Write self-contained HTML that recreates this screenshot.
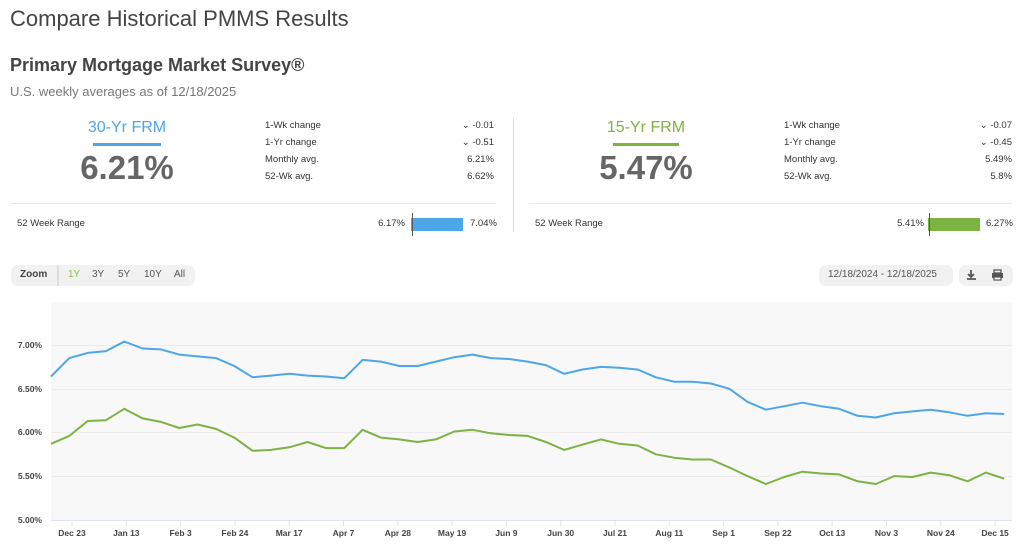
<!DOCTYPE html>
<html><head><meta charset="utf-8"><style>
body{margin:0;width:1024px;height:547px;background:#fff;font-family:"Liberation Sans",sans-serif;position:relative;overflow:hidden;color:#444}
.a{position:absolute;white-space:nowrap}
.lbl{font-size:9.5px;color:#333}
.val{font-size:9.5px;color:#333;text-align:right}
</style></head><body>
<div class="a" style="left:10px;top:6px;font-size:22px;color:#444">Compare Historical PMMS Results</div>
<div class="a" style="left:10px;top:55px;font-size:18px;font-weight:bold;color:#444">Primary Mortgage Market Survey®</div>
<div class="a" style="left:10px;top:84px;font-size:13px;color:#777">U.S. weekly averages as of 12/18/2025</div>

<div class="a" style="left:77px;width:100px;text-align:center;top:119px;font-size:16px;color:#4da6e8">30-Yr FRM</div>
<div class="a" style="left:93px;top:143px;width:68px;height:3px;background:#4da6e8"></div>
<div class="a" style="left:57px;width:140px;text-align:center;top:149px;font-size:33px;font-weight:bold;color:#666">6.21%</div>
<div class="a lbl" style="left:265px;top:120px">1-Wk change</div>
<div class="a lbl" style="left:265px;top:137px">1-Yr change</div>
<div class="a lbl" style="left:265px;top:154px">Monthly avg.</div>
<div class="a lbl" style="left:265px;top:171px">52-Wk avg.</div>
<div class="a val" style="right:530px;top:120px">⌄ -0.01</div>
<div class="a val" style="right:530px;top:137px">⌄ -0.51</div>
<div class="a val" style="right:530px;top:154px">6.21%</div>
<div class="a val" style="right:530px;top:171px">6.62%</div>
<div class="a" style="left:10px;top:203px;width:486px;height:1px;background:#e8e8e8"></div>
<div class="a lbl" style="left:17px;top:218px">52 Week Range</div>
<div class="a val" style="right:619px;top:218px">6.17%</div>
<div class="a" style="left:411px;top:218px;width:52px;height:13px;background:#4da6e8"></div>
<div class="a" style="left:412px;top:213px;width:1px;height:23px;background:#555"></div>
<div class="a lbl" style="left:470px;top:218px">7.04%</div>

<div class="a" style="left:513px;top:118px;width:1px;height:114px;background:#ddd"></div>

<div class="a" style="left:596px;width:100px;text-align:center;top:119px;font-size:16px;color:#7cb342">15-Yr FRM</div>
<div class="a" style="left:613px;top:143px;width:66px;height:3px;background:#7cb342"></div>
<div class="a" style="left:576px;width:140px;text-align:center;top:149px;font-size:33px;font-weight:bold;color:#666">5.47%</div>
<div class="a lbl" style="left:784px;top:120px">1-Wk change</div>
<div class="a lbl" style="left:784px;top:137px">1-Yr change</div>
<div class="a lbl" style="left:784px;top:154px">Monthly avg.</div>
<div class="a lbl" style="left:784px;top:171px">52-Wk avg.</div>
<div class="a val" style="right:12px;top:120px">⌄ -0.07</div>
<div class="a val" style="right:12px;top:137px">⌄ -0.45</div>
<div class="a val" style="right:12px;top:154px">5.49%</div>
<div class="a val" style="right:12px;top:171px">5.8%</div>
<div class="a" style="left:529px;top:203px;width:483px;height:1px;background:#e8e8e8"></div>
<div class="a lbl" style="left:535px;top:218px">52 Week Range</div>
<div class="a val" style="right:100px;top:218px">5.41%</div>
<div class="a" style="left:928px;top:218px;width:52px;height:13px;background:#7cb342"></div>
<div class="a" style="left:929px;top:213px;width:1px;height:23px;background:#555"></div>
<div class="a lbl" style="left:986px;top:218px">6.27%</div>

<div class="a" style="left:11px;top:265px;width:184px;height:21px;background:#f1f1f1;border-radius:7px"></div>
<div class="a" style="left:57px;top:265px;width:2px;height:21px;background:#ddd"></div>
<div class="a" style="left:20px;top:269px;font-size:10px;font-weight:bold;color:#444">Zoom</div>
<div class="a" style="left:68px;top:269px;font-size:10px;color:#8bc34a">1Y</div>
<div class="a" style="left:92px;top:269px;font-size:10px;color:#555">3Y</div>
<div class="a" style="left:118px;top:269px;font-size:10px;color:#555">5Y</div>
<div class="a" style="left:144px;top:269px;font-size:10px;color:#555">10Y</div>
<div class="a" style="left:174px;top:269px;font-size:10px;color:#555">All</div>

<div class="a" style="left:819px;top:265px;width:134px;height:21px;background:#f1f1f1;border-radius:7px"></div>
<div class="a" style="left:828px;top:269px;font-size:10px;color:#555">12/18/2024 - 12/18/2025</div>
<div class="a" style="left:959px;top:265px;width:54px;height:21px;background:#f1f1f1;border-radius:7px"></div>
<svg class="a" style="left:966px;top:269px" width="42" height="13">
<path d="M5 1v6M2 5l3 3 3-3M1 10h9" stroke="#555" stroke-width="1.8" fill="none"/>
<rect x="28" y="1" width="7" height="3" fill="none" stroke="#555" stroke-width="1.3"/>
<rect x="26" y="4" width="11" height="5" fill="#555"/>
<rect x="28" y="8" width="7" height="3" fill="#fff" stroke="#555" stroke-width="1.2"/>
</svg>

<svg class="a" style="left:0;top:0" width="1024" height="547">
<rect x="51" y="302" width="961" height="218" fill="#f8f8f8"/>
<g stroke="#ececec" stroke-width="1">
<line x1="51" x2="1012" y1="345.5" y2="345.5"/><line x1="51" x2="1012" y1="389.5" y2="389.5"/>
<line x1="51" x2="1012" y1="432.5" y2="432.5"/><line x1="51" x2="1012" y1="476.5" y2="476.5"/>
</g>
<line x1="51" x2="1012" y1="520.5" y2="520.5" stroke="#dde3ee"/>
<g font-size="8.5" font-weight="bold" fill="#444" text-anchor="end" font-family="Liberation Sans">
<text x="42" y="348">7.00%</text><text x="42" y="392">6.50%</text><text x="42" y="435">6.00%</text>
<text x="42" y="479">5.50%</text><text x="42" y="523">5.00%</text>
</g>
<g id="xt" font-size="8.5" font-weight="bold" fill="#444" text-anchor="middle" font-family="Liberation Sans"></g>
<polyline id="p30" fill="none" stroke="#4da6e8" stroke-width="2" stroke-linejoin="round"/>
<polyline id="p15" fill="none" stroke="#7cb342" stroke-width="2" stroke-linejoin="round"/>
</svg>
<script>
var a=[6.64,6.85,6.91,6.93,7.04,6.96,6.95,6.89,6.87,6.85,6.76,6.63,6.65,6.67,6.65,6.64,6.62,6.83,6.81,6.76,6.76,6.81,6.86,6.89,6.85,6.84,6.81,6.77,6.67,6.72,6.75,6.74,6.72,6.63,6.58,6.58,6.56,6.50,6.35,6.26,6.30,6.34,6.30,6.27,6.19,6.17,6.22,6.24,6.26,6.23,6.19,6.22,6.21];
var b=[5.87,5.96,6.13,6.14,6.27,6.16,6.12,6.05,6.09,6.04,5.94,5.79,5.80,5.83,5.89,5.82,5.82,6.03,5.94,5.92,5.89,5.92,6.01,6.03,5.99,5.97,5.96,5.89,5.80,5.86,5.92,5.87,5.85,5.75,5.71,5.69,5.69,5.60,5.50,5.41,5.49,5.55,5.53,5.52,5.44,5.41,5.50,5.49,5.54,5.51,5.44,5.54,5.47];
function pts(d){return d.map(function(v,i){return (51+i*18.33).toFixed(1)+","+(345+(7-v)*87.4).toFixed(1)}).join(" ")}
document.getElementById("p30").setAttribute("points",pts(a));
document.getElementById("p15").setAttribute("points",pts(b));
var L=["Dec 23","Jan 13","Feb 3","Feb 24","Mar 17","Apr 7","Apr 28","May 19","Jun 9","Jun 30","Jul 21","Aug 11","Sep 1","Sep 22","Oct 13","Nov 3","Nov 24","Dec 15"];
var g=document.getElementById("xt"),s="";
for(var i=0;i<L.length;i++){var x=72+i*54.3;s+='<line x1="'+x+'" x2="'+x+'" y1="520" y2="526" stroke="#dde3ee"/><text x="'+x+'" y="536">'+L[i]+'</text>';}
g.innerHTML=s;
</script>
</body></html>
